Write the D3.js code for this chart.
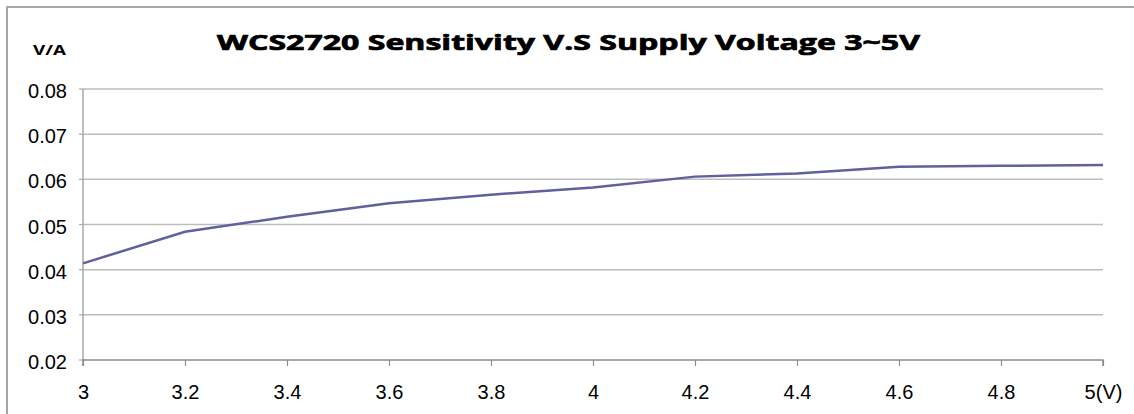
<!DOCTYPE html>
<html><head><meta charset="utf-8">
<script src="https://cdn.jsdelivr.net/npm/d3@7"></script>
<style>body{margin:0;background:#fff}svg{display:block}</style>
</head><body><svg id="c" width="1134" height="414"></svg>
<script>
const voltages = [3, 3.2, 3.4, 3.6, 3.8, 4, 4.2, 4.4, 4.6, 4.8, 5];
const sensitivity = [0.0414, 0.0484, 0.0517, 0.0547, 0.0566, 0.0582, 0.0606, 0.0613, 0.0628, 0.0630, 0.0632];
const yTicks = [0.02, 0.03, 0.04, 0.05, 0.06, 0.07, 0.08];
const xTickLabels = ["3", "3.2", "3.4", "3.6", "3.8", "4", "4.2", "4.4", "4.6", "4.8", "5(V)"];
const titleText = "WCS2720 Sensitivity V.S Supply Voltage 3~5V";
const yUnit = "V/A";

const svg = d3.select("#c");
const L = 83, R = 1103, T = 89, B = 360;
const x = d3.scaleLinear().domain([3, 5]).range([L, R]);
const y = d3.scaleLinear().domain([0.02, 0.08]).range([B, T]);

// outer frame
svg.append("path").attr("d", `M7,414 V7 H1134`).attr("fill", "none").attr("stroke", "#a6a6a6").attr("stroke-width", 2);

// gridlines
svg.append("g").selectAll("line").data(yTicks.filter(d => d > 0.02)).join("line")
  .attr("x1", L).attr("x2", R).attr("y1", d => y(d)).attr("y2", d => y(d))
  .attr("stroke", "#bdbdbd").attr("stroke-width", 1.5);

// y axis line
svg.append("line").attr("x1", L).attr("x2", L).attr("y1", T).attr("y2", B).attr("stroke", "#a8a8a8").attr("stroke-width", 1.5);
svg.append("g").selectAll("line").data(yTicks).join("line")
  .attr("x1", L - 4).attr("x2", L).attr("y1", d => y(d)).attr("y2", d => y(d))
  .attr("stroke", "#a8a8a8").attr("stroke-width", 1.2);

// x axis
const xAxis = d3.axisBottom(x).tickValues(voltages).tickSize(6)
  .tickFormat((d, i) => xTickLabels[i]);
const gx = svg.append("g").attr("transform", `translate(0,${B})`).call(xAxis);
gx.select(".domain").attr("stroke", "#8c8c8c").attr("stroke-width", 1.5).attr("d", `M${L},6V0H${R}V6`);
gx.selectAll(".tick line").attr("stroke", "#8c8c8c").attr("stroke-width", 1.2);
gx.selectAll(".tick text").attr("fill", "#000").attr("font-family", "Liberation Sans, Arial, sans-serif")
  .attr("font-size", 20).attr("dy", 0).attr("y", 39);

// y labels
svg.append("g").selectAll("text").data(yTicks).join("text")
  .attr("x", 67).attr("y", d => y(d) + 9).attr("text-anchor", "end")
  .attr("font-family", "Liberation Sans, Arial, sans-serif").attr("font-size", 20)
  .text(d => d3.format(".2f")(d));

// line
svg.append("path").datum(voltages.map((v, i) => [v, sensitivity[i]]))
  .attr("fill", "none").attr("stroke", "#5f609c").attr("stroke-width", 2.5)
  .attr("d", d3.line().x(d => x(d[0])).y(d => y(d[1])));

// title
svg.append("text").attr("x", 217).attr("y", 50)
  .attr("font-family", "Open Sans, sans-serif").attr("font-weight", "bold").attr("font-size", 21)
  .attr("stroke", "#000").attr("stroke-width", 0.7)
  .attr("textLength", 703).attr("lengthAdjust", "spacingAndGlyphs").text(titleText);

// unit
svg.append("text").attr("x", 33).attr("y", 55)
  .attr("font-family", "Open Sans, sans-serif").attr("font-weight", "bold").attr("font-size", 14)
  .attr("textLength", 33).attr("lengthAdjust", "spacingAndGlyphs").text(yUnit);
</script></body></html>
